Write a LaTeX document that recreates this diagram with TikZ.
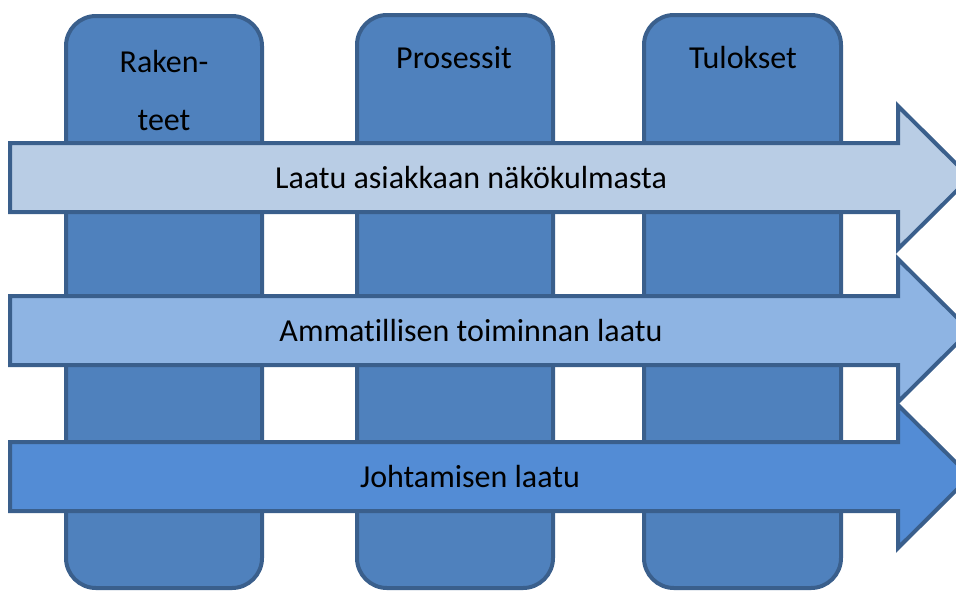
\documentclass[tikz,border=0pt]{standalone}
\usepackage{fontspec}
\setmainfont{Carlito}[Ligatures={NoCommon}]
\definecolor{colfill}{HTML}{4F81BD}
\definecolor{edge}{HTML}{3A5F8C}
\definecolor{arA}{HTML}{B9CDE5}
\definecolor{arB}{HTML}{8EB4E3}
\definecolor{arC}{HTML}{538CD5}
\begin{document}
\begin{tikzpicture}[x=1pt,y=-1pt,
  colbox/.style={draw=edge,fill=colfill,line width=4pt,rounded corners=30pt},
  bigarrow/.style={draw=edge,line width=4pt,line join=miter},
  lbl/.style={font=\fontsize{32}{58}\selectfont,text=black,inner sep=0pt,align=center}]
\useasboundingbox (0,0) rectangle (956,590);
\begin{scope}
\clip (0,0) rectangle (956,590);
% columns
\draw[colbox] (66,16) rectangle (262,588);
\draw[colbox] (357,15) rectangle (553,588);
\draw[colbox] (644,15) rectangle (841,588);
\node[lbl] (c1) at (164,91) {Raken-\\teet};
\node[lbl] (c2) at (454,58) {Prosessit};
\node[lbl] (c3) at (743,58) {Tulokset};
% arrows
\draw[bigarrow,fill=arA] (10,143) -- (898,143) -- (898,106) -- (970,177.5) -- (898,249) -- (898,212) -- (10,212) -- cycle;
\draw[bigarrow,fill=arB] (10,296) -- (898,296) -- (898,259) -- (970,330.5) -- (898,402) -- (898,365) -- (10,365) -- cycle;
\draw[bigarrow,fill=arC] (10,442) -- (898,442) -- (898,405) -- (970,476.5) -- (898,548) -- (898,511) -- (10,511) -- cycle;
\end{scope}
\node[lbl] (a1) at (471,178) {Laatu asiakkaan näkökulmasta};
\node[lbl] (a2) at (471,330) {Ammatillisen toiminnan laatu};
\node[lbl] (a3) at (470,476) {Johtamisen laatu};
\end{tikzpicture}
\end{document}
